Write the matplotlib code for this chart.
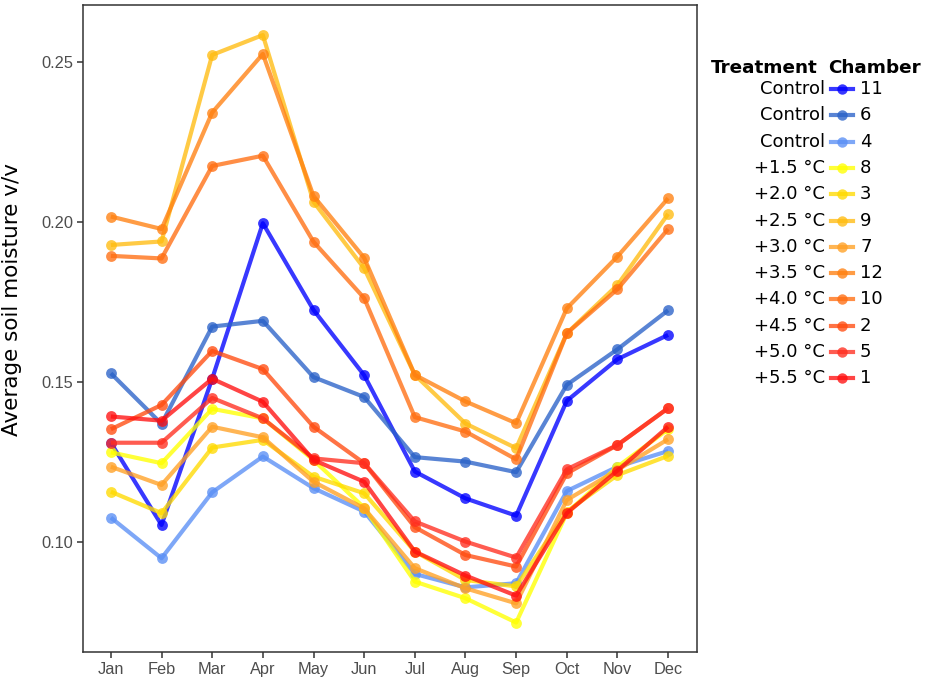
import matplotlib.pyplot as plt
from matplotlib.lines import Line2D

# -------------------------
# DATA
# -------------------------
months = ['Jan', 'Feb', 'Mar', 'Apr', 'May', 'Jun',
          'Jul', 'Aug', 'Sep', 'Oct', 'Nov', 'Dec']

treatments = ['Control', 'Control', 'Control', '+1.5 °C', '+2.0 °C', '+2.5 °C',
              '+3.0 °C', '+3.5 °C', '+4.0 °C', '+4.5 °C', '+5.0 °C', '+5.5 °C']
chambers = ['11', '6', '4', '8', '3', '9', '7', '12', '10', '2', '5', '1']

ch11 = [0.1310, 0.1053, 0.1510, 0.1996, 0.1725, 0.1521, 0.1220, 0.1136, 0.1082, 0.1441, 0.1571, 0.1647]
ch6 = [0.1527, 0.1369, 0.1673, 0.1691, 0.1515, 0.1453, 0.1265, 0.1251, 0.1218, 0.1491, 0.1602, 0.1724]
ch4 = [0.1076, 0.0949, 0.1155, 0.1267, 0.1168, 0.1095, 0.0900, 0.0858, 0.0871, 0.1159, 0.1235, 0.1284]
ch8 = [0.1280, 0.1246, 0.1416, 0.1386, 0.1256, 0.1107, 0.0876, 0.0824, 0.0748, 0.1090, 0.1235, 0.1352]
ch3 = [0.1157, 0.1090, 0.1295, 0.1319, 0.1204, 0.1152, 0.0970, 0.0881, 0.0861, 0.1095, 0.1209, 0.1269]
ch9 = [0.1928, 0.1939, 0.2522, 0.2584, 0.2063, 0.1855, 0.1522, 0.1370, 0.1293, 0.1652, 0.1803, 0.2025]
ch7 = [0.1235, 0.1178, 0.1360, 0.1327, 0.1188, 0.1105, 0.0918, 0.0855, 0.0808, 0.1131, 0.1225, 0.1321]
ch12 = [0.2017, 0.1978, 0.2342, 0.2525, 0.2081, 0.1888, 0.1522, 0.1439, 0.1371, 0.1730, 0.1892, 0.2074]
ch10 = [0.1894, 0.1886, 0.2175, 0.2207, 0.1938, 0.1762, 0.1390, 0.1345, 0.1258, 0.1652, 0.1790, 0.1978]
ch2 = [0.1352, 0.1428, 0.1597, 0.1540, 0.1360, 0.1246, 0.1046, 0.0959, 0.0923, 0.1214, 0.1303, 0.1418]
ch5 = [0.1310, 0.1310, 0.1450, 0.1386, 0.1261, 0.1246, 0.1064, 0.1001, 0.0951, 0.1227, 0.1303, 0.1418]
ch1 = [0.1392, 0.1379, 0.1510, 0.1438, 0.1256, 0.1188, 0.0970, 0.0895, 0.0832, 0.1090, 0.1223, 0.1360]

series = [ch11, ch6, ch4, ch8, ch3, ch9, ch7, ch12, ch10, ch2, ch5, ch1]

colors = ['#0000FF', '#2A62C8', '#5A8FF5', '#FFFF00', '#FFDA00', '#FFBC10',
          '#FFA024', '#FF8010', '#FF6E12', '#FF4C10', '#FF2E20', '#FF1010']

# -------------------------
# PLOT
# -------------------------
fig = plt.figure(figsize=(9.27, 6.84), dpi=100)
ax = fig.add_axes([83 / 927, 32 / 684, 614 / 927, 647 / 684])

x = list(range(len(months)))
for vals, col in zip(series, colors):
    ax.plot(x, vals, color=col, alpha=0.78, linewidth=3.0,
            marker='o', markersize=7.8, markeredgewidth=0, solid_capstyle='butt')

ax.set_xlim(-0.55, 11.57)
ax.set_ylim(0.0656, 0.2678)
ax.set_xticks(x)
ax.set_xticklabels(months)
ax.set_yticks([0.10, 0.15, 0.20, 0.25])
ax.set_yticklabels(['0.10', '0.15', '0.20', '0.25'])

for lab in ax.get_xticklabels() + ax.get_yticklabels():
    lab.set_fontfamily('Liberation Sans')
    lab.set_fontsize(11.8)
    lab.set_color('#4D4D4D')
ax.tick_params(length=4, width=1.1, color='#333333', pad=3)
for sp in ax.spines.values():
    sp.set_color('#333333')
    sp.set_linewidth(1.1)

ax.set_ylabel('Average soil moisture v/v', fontsize=15.5, family='DejaVu Sans')
ax.yaxis.set_label_coords(-0.099, 0.545)

# -------------------------
# LEGEND (treatment + chamber)
# -------------------------
W, H = 927, 684
fig.text(818 / W, 1 - 68 / H, 'Treatment', ha='right', va='center',
         fontsize=13.2, fontweight='bold', family='DejaVu Sans')
fig.text(828 / W, 1 - 68 / H, 'Chamber', ha='left', va='center',
         fontsize=13.2, fontweight='bold', family='DejaVu Sans')
for i, (tr, ch, col) in enumerate(zip(treatments, chambers, colors)):
    yy = 1 - (89 + i * 26.3) / H
    fig.text(825 / W, yy, tr, ha='right', va='center', fontsize=13, family='DejaVu Sans')
    fig.add_artist(Line2D([831 / W, 853 / W], [yy, yy], color=col, alpha=0.78,
                          linewidth=3.0, transform=fig.transFigure))
    fig.add_artist(Line2D([842 / W], [yy], color=col, alpha=0.78, marker='o',
                          markersize=7.5, markeredgewidth=0, transform=fig.transFigure))
    fig.text(860 / W, yy, ch, ha='left', va='center', fontsize=13, family='DejaVu Sans')

fig.savefig('out.png', dpi=100)
